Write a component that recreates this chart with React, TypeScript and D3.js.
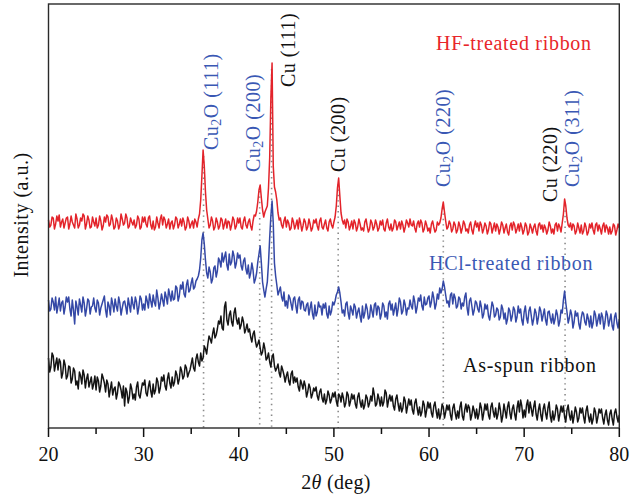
import React from "react";
import * as d3 from "d3";

// 2θ grid for the main readings: 20° to 80° in 0.25° steps (241 points)
// plus in-between readings at +0.125° (240 points)
const STEP = 0.25;

// HF-treated ribbon (a.u.) at 20.00, 20.25, ...
const hfValues: number[] = [
  208, 203, 210, 204, 207, 201, 209, 205, 211, 204, 206, 200, 209, 203, 207, 212,
  204, 208, 201, 206, 210, 203, 207, 202, 206, 211, 204, 208, 201, 207, 203, 209,
  205, 210, 202, 206, 208, 203, 209, 201, 206, 204, 210, 203, 207, 201, 205, 209,
  203, 208, 204, 199, 207, 203, 209, 204, 202, 206, 201, 207, 204, 200, 206, 209,
  228, 278, 236, 209, 203, 207, 201, 206, 202, 208, 204, 200, 206, 203, 208, 202,
  205, 201, 207, 203, 206, 202, 207, 212, 226, 243, 218, 216, 222, 270, 365, 241,
  228, 208, 203, 207, 201, 205, 200, 206, 203, 199, 205, 202, 206, 201, 204, 200,
  205, 202, 207, 201, 204, 200, 206, 203, 206, 222, 250, 215, 204, 200, 206, 202,
  199, 205, 201, 204, 200, 206, 202, 199, 205, 201, 204, 200, 203, 199, 205, 201,
  204, 200, 206, 202, 199, 203, 201, 205, 209, 202, 200, 204, 201, 205, 199, 203,
  200, 204, 201, 198, 203, 210, 226, 207, 201, 204, 199, 203, 198, 202, 200, 204,
  199, 203, 198, 202, 201, 197, 203, 199, 202, 198, 204, 200, 197, 201, 199, 203,
  200, 196, 202, 198, 203, 199, 197, 201, 198, 202, 196, 200, 201, 197, 203, 199,
  196, 200, 198, 202, 199, 203, 197, 201, 205, 229, 210, 201, 198, 202, 197, 200,
  203, 197, 201, 196, 200, 198, 203, 197, 199, 202, 196, 200, 201, 197, 202, 198,
  200,
];
// HF-treated ribbon, readings at 20.125, 20.375, ...
const hfMidValues: number[] = [
  201, 211, 199, 212, 213, 206, 200, 210, 199, 212, 203, 214, 200, 210, 214, 199,
  212, 200, 211, 202, 200, 212, 198, 211, 213, 202, 213, 199, 210, 199, 214, 203,
  214, 200, 210, 203, 200, 212, 199, 211, 211, 201, 212, 199, 198, 211, 200, 213,
  211, 200, 209, 205, 199, 211, 200, 209, 210, 198, 211, 200, 207, 209, 201, 214,
  252, 262, 218, 200, 211, 198, 210, 199, 210, 199, 209, 207, 198, 211, 199, 210,
  210, 199, 211, 200, 209, 198, 213, 217, 238, 230, 211, 219, 240, 330, 262, 236,
  215, 210, 200, 211, 208, 198, 210, 199, 208, 210, 197, 209, 198, 209, 197, 208,
  209, 198, 210, 199, 208, 197, 209, 200, 211, 240, 232, 208, 208, 209, 198, 207,
  208, 197, 209, 198, 197, 209, 196, 208, 198, 208, 197, 207, 208, 197, 209, 198,
  197, 208, 198, 206, 207, 196, 208, 201, 203, 207, 196, 207, 208, 196, 207, 197,
  195, 207, 196, 206, 205, 219, 216, 199, 207, 196, 206, 195, 206, 195, 207, 197,
  195, 206, 194, 207, 205, 206, 195, 205, 194, 206, 195, 205, 204, 194, 206, 195,
  204, 193, 205, 206, 195, 204, 205, 194, 205, 193, 204, 195, 204, 193, 205, 203,
  203, 194, 206, 195, 194, 205, 204, 196, 214, 222, 203, 205, 204, 194, 205, 195,
  194, 205, 193, 204, 205, 194, 205, 203, 194, 205, 203, 194, 194, 204, 193, 204,
];

// HCl-treated ribbon (a.u.)
const hclValues: number[] = [
  128, 119, 126, 131, 122, 117, 127, 121, 126, 119, 128, 104, 121, 129, 116, 125,
  119, 127, 121, 130, 116, 125, 120, 128, 118, 126, 113, 124, 129, 117, 125, 120,
  127, 114, 123, 131, 119, 126, 121, 129, 124, 132, 120, 127, 133, 122, 130, 125,
  128, 136, 124, 133, 137, 129, 140, 132, 139, 134, 143, 136, 145, 139, 147, 152,
  170, 195, 168, 150, 156, 149, 162, 157, 167, 175, 171, 163, 174, 166, 172, 165,
  170, 162, 167, 159, 163, 155, 158, 149, 166, 182, 146, 131, 146, 190, 227, 165,
  143, 137, 131, 136, 127, 133, 124, 129, 122, 128, 119, 126, 117, 125, 120, 114,
  123, 116, 121, 113, 120, 114, 122, 117, 123, 133, 141, 126, 118, 124, 115, 122,
  113, 121, 116, 112, 122, 115, 119, 111, 117, 123, 113, 120, 114, 122, 116, 124,
  118, 113, 125, 119, 126, 117, 123, 120, 128, 119, 126, 121, 127, 122, 131, 124,
  132, 126, 130, 124, 129, 135, 147, 133, 127, 133, 124, 130, 122, 129, 125, 131,
  120, 127, 122, 118, 125, 116, 121, 114, 119, 112, 117, 122, 113, 118, 111, 119,
  115, 109, 117, 112, 118, 111, 115, 108, 116, 110, 117, 112, 109, 115, 111, 117,
  113, 108, 116, 110, 114, 109, 113, 107, 115, 137, 116, 110, 113, 106, 112, 104,
  110, 114, 103, 109, 112, 105, 113, 108, 104, 111, 106, 113, 108, 102, 111, 105,
  109,
];
const hclMidValues: number[] = [
  117, 130, 118, 115, 130, 125, 114, 131, 131, 112, 118, 127, 113, 123, 131, 112,
  129, 114, 122, 120, 128, 113, 124, 132, 111, 122, 130, 116, 122, 131, 113, 126,
  121, 130, 116, 124, 131, 114, 132, 118, 118, 127, 134, 121, 126, 138, 119, 134,
  122, 131, 139, 127, 128, 142, 127, 143, 146, 131, 148, 138, 150, 141, 149, 158,
  188, 184, 155, 161, 145, 160, 151, 170, 161, 166, 176, 158, 163, 177, 160, 175,
  173, 158, 170, 154, 150, 165, 145, 155, 174, 165, 138, 139, 165, 212, 205, 152,
  133, 141, 127, 122, 120, 130, 118, 131, 115, 131, 127, 118, 123, 113, 126, 109,
  112, 126, 122, 124, 125, 110, 113, 126, 127, 136, 135, 115, 112, 126, 109, 118,
  124, 110, 120, 106, 110, 124, 109, 123, 111, 125, 122, 109, 125, 111, 109, 127,
  124, 119, 112, 130, 114, 128, 113, 119, 122, 132, 115, 130, 133, 118, 123, 130,
  121, 136, 119, 134, 140, 139, 141, 125, 121, 135, 134, 120, 131, 119, 122, 135,
  113, 130, 113, 127, 119, 127, 110, 124, 123, 108, 126, 111, 120, 108, 123, 109,
  104, 120, 107, 121, 106, 122, 119, 103, 122, 105, 121, 103, 119, 104, 121, 107,
  119, 103, 117, 105, 104, 118, 102, 118, 128, 125, 105, 118, 100, 117, 115, 99,
  116, 106, 114, 101, 100, 117, 102, 114, 115, 99, 117, 102, 114, 98, 115, 100,
];

// As-spun ribbon (a.u.)
const asSpunValues: number[] = [
  70, 61, 72, 64, 58, 66, 55, 63, 52, 61, 49, 57, 47, 56, 44, 53,
  49, 41, 51, 44, 38, 47, 42, 50, 36, 44, 39, 33, 41, 35, 43, 30,
  22, 36, 31, 39, 34, 41, 33, 38, 43, 35, 41, 37, 44, 38, 46, 40,
  47, 42, 49, 45, 51, 46, 53, 49, 57, 52, 60, 55, 64, 60, 69, 66,
  75, 70, 79, 84, 89, 94, 90, 99, 104, 100, 121, 108, 113, 106, 115, 109,
  110, 103, 106, 99, 96, 91, 94, 87, 84, 80, 76, 79, 70, 66, 71, 62,
  60, 55, 62, 53, 52, 47, 54, 45, 46, 41, 48, 39, 42, 36, 40, 34,
  37, 32, 36, 30, 34, 28, 33, 29, 31, 27, 34, 26, 30, 25, 33, 27,
  29, 24, 31, 26, 28, 23, 30, 25, 27, 33, 24, 29, 31, 26, 35, 28,
  27, 22, 29, 24, 25, 20, 27, 22, 23, 18, 25, 20, 21, 16, 23, 18,
  20, 15, 22, 17, 19, 14, 21, 16, 18, 13, 20, 15, 17, 21, 12, 18,
  16, 20, 13, 17, 19, 14, 20, 15, 18, 13, 21, 16, 20, 14, 18, 12,
  17, 21, 15, 19, 14, 20, 16, 22, 18, 23, 15, 19, 21, 14, 18, 13,
  19, 15, 20, 12, 17, 13, 19, 14, 16, 11, 18, 13, 17, 12, 16, 10,
  15, 11, 17, 12, 14, 9, 16, 11, 15, 10, 13, 8, 14, 9, 15, 11,
  13,
];
const asSpunMidValues: number[] = [
  56, 75, 57, 70, 69, 50, 68, 49, 62, 45, 60, 43, 39, 52, 58, 40,
  54, 46, 39, 52, 51, 36, 54, 45, 48, 31, 46, 39, 29, 46, 38, 42,
  40, 25, 44, 29, 28, 46, 30, 45, 48, 32, 47, 31, 34, 50, 35, 51,
  53, 38, 55, 40, 42, 57, 44, 61, 49, 63, 51, 58, 70, 57, 74, 62,
  67, 82, 74, 92, 85, 100, 93, 107, 112, 98, 126, 103, 117, 102, 120, 104,
  99, 111, 95, 104, 99, 86, 97, 81, 88, 73, 85, 68, 75, 61, 74, 57,
  64, 51, 58, 46, 56, 43, 57, 51, 50, 37, 44, 47, 31, 44, 30, 40,
  41, 28, 39, 26, 24, 37, 25, 35, 36, 22, 32, 35, 21, 36, 22, 34,
  33, 20, 35, 21, 19, 33, 21, 32, 40, 22, 34, 22, 22, 38, 21, 33,
  32, 18, 33, 17, 16, 31, 15, 29, 28, 14, 29, 13, 12, 27, 11, 26,
  25, 11, 26, 10, 9, 24, 10, 23, 23, 8, 24, 9, 10, 26, 8, 24,
  23, 8, 22, 10, 9, 25, 8, 24, 24, 9, 25, 11, 9, 25, 6, 24,
  10, 26, 9, 23, 8, 27, 28, 10, 11, 28, 26, 12, 27, 8, 24, 7,
  24, 9, 26, 6, 8, 23, 7, 22, 22, 6, 23, 8, 5, 21, 6, 20,
  20, 5, 22, 6, 4, 20, 5, 19, 19, 4, 18, 3, 18, 3, 19, 6,
];

// reference peak positions (2θ) marked with dotted lines
const peakPositions: number[] = [36.3, 42.2, 43.45, 50.45, 61.5, 74.3];

// peak labels
const peakLabels = [
  { deg: 36.3, phase: "Cu2O", hkl: "(111)", color: "#3a58b4" },
  { deg: 42.2, phase: "Cu2O", hkl: "(200)", color: "#3a58b4" },
  { deg: 43.45, phase: "Cu", hkl: "(111)", color: "#111" },
  { deg: 50.45, phase: "Cu", hkl: "(200)", color: "#111" },
  { deg: 61.5, phase: "Cu2O", hkl: "(220)", color: "#3a58b4" },
  { deg: 74.3, phase: "Cu", hkl: "(220)", color: "#111" },
  { deg: 74.3, phase: "Cu2O", hkl: "(311)", color: "#3a58b4" },
];
// label placement (px offset from peak, bottom of text)
const labelDx: number[] = [14.5, 0.5, 23, 7, 7, -8, 14];
const labelY: number[] = [150, 172, 87, 172, 187, 202, 187];

const xTicks: number[] = [20, 30, 40, 50, 60, 70, 80];
const xMinorTicks: number[] = [25, 35, 45, 55, 65, 75];

const interleave = (main: number[], mid: number[]) =>
  main.flatMap((v, i) => (i < mid.length ? [v, mid[i]] : [v]));

const series = [
  { name: "HF-treated ribbon", values: interleave(hfValues, hfMidValues), color: "#e3232a" },
  { name: "HCl-treated ribbon", values: interleave(hclValues, hclMidValues), color: "#3448a6" },
  { name: "As-spun ribbon", values: interleave(asSpunValues, asSpunMidValues), color: "#141414" },
];

const W = 640;
const H = 498;
const left = 48.5;
const right = 619.3;
const top = 4;
const bottom = 428;

export default function App() {
  const x = d3.scaleLinear().domain([20, 80]).range([left, right]);
  const y = d3.scaleLinear().domain([0, 424]).range([bottom, top]);
  const font = "'Liberation Serif', 'DejaVu Serif', serif";

  const lineGen = (vals: number[]) =>
    d3
      .line<number>()
      .x((_, i) => x(20 + (i * STEP) / 2))
      .y((d) => y(d))(vals) || "";

  const redAt = (deg: number) => {
    const i = Math.round((deg - 20) / STEP);
    return hfValues[Math.max(0, Math.min(hfValues.length - 1, i))];
  };

  return (
    <svg
      width={W}
      height={H}
      style={{ position: "absolute", left: 0, top: 0, background: "#fff" }}
      fontFamily={font}
    >
      <rect x={0} y={0} width={W} height={H} fill="#fff" />
      {peakPositions.map((p, i) => (
        <line
          key={"dl" + i}
          x1={x(p)}
          x2={x(p)}
          y1={y(redAt(p)) + 6}
          y2={bottom}
          stroke="#8a8a8a"
          strokeWidth={1.6}
          strokeDasharray="1.4,4"
        />
      ))}
      {series.map((s) => (
        <path
          key={s.name}
          d={lineGen(s.values)}
          fill="none"
          stroke={s.color}
          strokeWidth={1.5}
          strokeLinejoin="round"
        />
      ))}
      <rect
        x={left}
        y={top}
        width={right - left}
        height={bottom - top}
        fill="none"
        stroke="#2a2a2a"
        strokeWidth={1.4}
      />
      {xTicks.map((t) => (
        <g key={"t" + t}>
          <line x1={x(t)} x2={x(t)} y1={bottom} y2={bottom + 9} stroke="#111" strokeWidth={1.5} />
          <text x={x(t)} y={461} textAnchor="middle" fontSize={20} fill="#111">
            {t}
          </text>
        </g>
      ))}
      {xMinorTicks.map((t) => (
        <line key={"m" + t} x1={x(t)} x2={x(t)} y1={bottom} y2={bottom + 6} stroke="#111" strokeWidth={1.5} />
      ))}
      <text x={336} y={489} textAnchor="middle" fontSize={20} fill="#111" letterSpacing={0.3}>
        2<tspan fontStyle="italic">θ</tspan> (deg)
      </text>
      <text
        transform={`translate(28,215) rotate(-90)`}
        textAnchor="middle"
        fontSize={20}
        fill="#111"
        letterSpacing={0.5}
      >
        Intensity (a.u.)
      </text>
      <text x={436} y={50} fontSize={20} fill="#e8262a" letterSpacing={0.7}>
        HF-treated ribbon
      </text>
      <text x={429} y={270} fontSize={20} fill="#3a58b4" letterSpacing={0.7}>
        HCl-treated ribbon
      </text>
      <text x={463} y={372} fontSize={20} fill="#111" letterSpacing={0.7}>
        As-spun ribbon
      </text>
      {peakLabels.map((l, i) => (
        <text
          key={"pl" + i}
          transform={`translate(${x(l.deg) + labelDx[i]},${labelY[i]}) rotate(-90)`}
          fontSize={20}
          fill={l.color}
          letterSpacing={0.5}
        >
          {l.phase === "Cu2O" ? (
            <>
              Cu
              <tspan fontSize={14} dy={3}>
                2
              </tspan>
              <tspan dy={-3}>O {l.hkl}</tspan>
            </>
          ) : (
            <>Cu {l.hkl}</>
          )}
        </text>
      ))}
    </svg>
  );
}
